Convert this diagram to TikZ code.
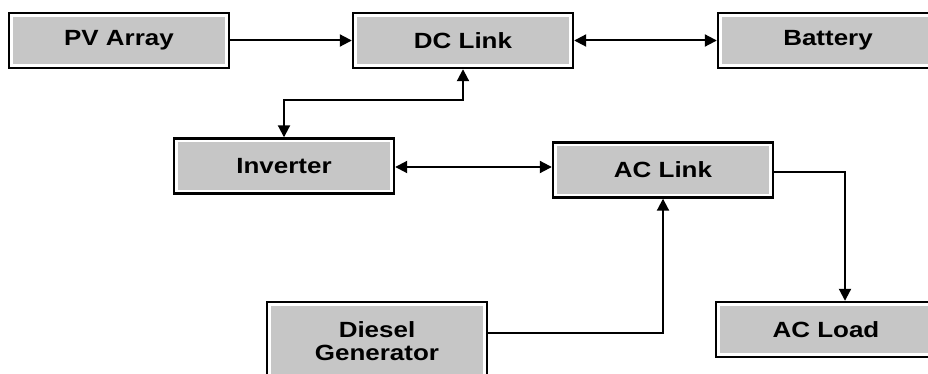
\documentclass[tikz,border=0pt]{standalone}
\usepackage{fontspec}
\setmainfont{Liberation Sans}
\usetikzlibrary{arrows.meta,calc}
\definecolor{boxgray}{RGB}{198,198,198}
\tikzset{
  block/.style={
    minimum width=220pt, minimum height=55pt, inner sep=0pt,
    fill=boxgray, draw=black, line width=2.4pt,
    path picture={\draw[white,line width=7.5pt]
      (path picture bounding box.south west) rectangle (path picture bounding box.north east);},
    font=\fontsize{22pt}{26pt}\selectfont\bfseries, align=center
  },
  tip/.tip={Triangle[length=12pt,width=12pt]},
  wire/.style={line width=2pt, -tip},
  wire2/.style={line width=2pt, tip-tip}
}
\newcommand{\wide}[1]{\scalebox{1.18}[1]{#1}}
\begin{document}
\begin{tikzpicture}[x=1pt,y=-1pt]
  \useasboundingbox (0,0) rectangle (928,374);
  \clip (0,0) rectangle (928,374);
  \fill[white] (0,0) rectangle (928,374);

  % blocks
  \node[block] (pv)   at (119,40.5)  {\wide{PV Array}};
  \node[block] (dc)   at (463,40.5)  {\wide{DC Link}};
  \node[block] (bat)  at (828,40.5)  {\wide{Battery}};
  \node[block] (inv)  at (284,166)   {\wide{Inverter}};
  \node[block] (ac)   at (663,170)   {\wide{AC Link}};
  \node[block, minimum height=78pt] (dg) at (377,341)
        {\wide{Diesel}\\[-3pt]\wide{Generator}};
  \node[block] (load) at (826,329.5) {\wide{AC Load}};

  % connections
  \draw[wire]  (pv.east) -- (dc.west);
  \draw[wire2] (dc.east) -- (bat.west);
  \coordinate (jog) at ($(inv.north)+(0,-37)$);
  \draw[wire2] (inv.north) -- (jog) -| (dc.south);
  \draw[wire2] ([yshift=-1pt]inv.east) -- ([yshift=-1pt]inv.east -| ac.west);
  \draw[wire]  ([yshift=-2pt]ac.east) -| ([xshift=19pt]load.north);
  \draw[wire]  ([yshift=8pt]dg.east) -| (ac.south);
\end{tikzpicture}
\end{document}
